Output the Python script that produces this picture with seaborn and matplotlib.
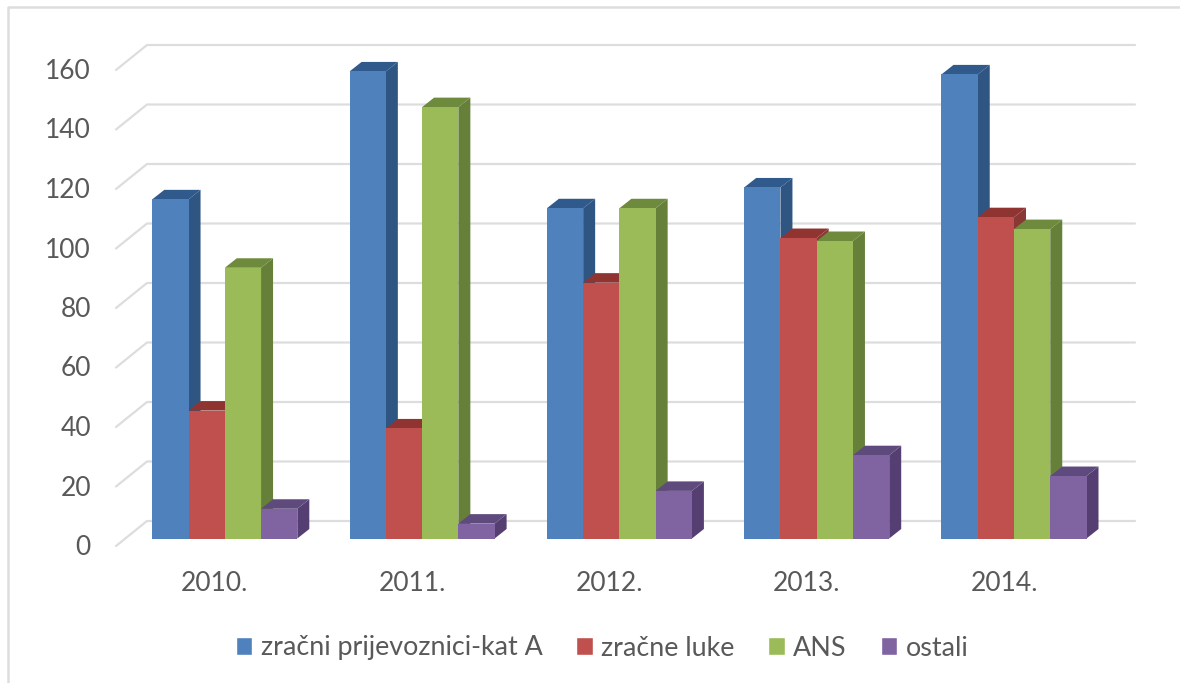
import pandas as pd
import matplotlib
matplotlib.use("Agg")
import matplotlib.pyplot as plt
import seaborn as sns
from matplotlib.lines import Line2D
from matplotlib.patches import Polygon, Patch
from matplotlib.transforms import ScaledTranslation

years = ["2010.", "2011.", "2012.", "2013.", "2014."]
categories = ["zračni prijevoznici-kat A", "zračne luke", "ANS", "ostali"]
carriers = [114, 157, 111, 118, 156]
airports = [43, 37, 86, 101, 108]
ans = [91, 145, 111, 100, 104]
others = [10, 5, 16, 28, 21]
y_ticks = [0, 20, 40, 60, 80, 100, 120, 140, 160]

front_colors = ["#4F81BD", "#C0504D", "#9BBB59", "#8064A2"]
side_colors = ["#2F5583", "#8A3836", "#66803A", "#553F72"]
top_colors = ["#30598C", "#8F3431", "#6E8A3C", "#5F4A7D"]
text_color = "#595959"
grid_color = "#DDDDDD"

df = pd.DataFrame({"godina": years, categories[0]: carriers, categories[1]: airports,
                   categories[2]: ans, categories[3]: others})
df = df.melt(id_vars="godina", var_name="kategorija", value_name="vrijednost")

sns.set_theme(style="white")
plt.rcParams["font.family"] = ["Lato", "DejaVu Sans"]

W, H = 1180, 683
fig = plt.figure(figsize=(W / 100, H / 100), dpi=100)

# axes placed in pixels so the pseudo 3D depth can be given in pixels too
ax_left, ax_right, ax_top, ax_bottom = 116, 1135, 40, 550
ax = fig.add_axes([ax_left / W, 1 - ax_bottom / H, (ax_right - ax_left) / W, (ax_bottom - ax_top) / H])
ax.patch.set_alpha(0)

sns.barplot(data=df, x="godina", y="vrijednost", hue="kategorija", hue_order=categories,
            palette=front_colors, width=0.735, gap=0, saturation=1, legend=False, ax=ax)

px_x = 197.3  # pixels per category
px_y = 2.975  # pixels per unit
zero_y = 538.5
first_x = 224.8
ax.set_xlim((ax_left - first_x) / px_x, (ax_right - first_x) / px_x)
ax.set_ylim((zero_y - ax_bottom) / px_y, (zero_y - ax_top) / px_y)

# back wall and floor lines
wall_x = ax.get_xlim()[0] + 31 / px_x
back_off = (zero_y - 521) / px_y
front_off = (zero_y - 546) / px_y
for v in y_ticks:
    ax.plot([ax.get_xlim()[0], wall_x, ax.get_xlim()[1]],
            [v + front_off, v + back_off, v + back_off],
            color=grid_color, lw=1.6, zorder=1, clip_on=False, solid_capstyle="round")

# side and top faces of each bar
dx = 12 / px_x
dy = 9.5 / px_y
for i, container in enumerate(ax.containers):
    for bar in container:
        x0 = bar.get_x()
        x1 = x0 + bar.get_width()
        h = bar.get_height()
        bar.set_zorder(4 + 2 * i)
        bar.set_linewidth(0)
        ax.add_patch(Polygon([(x1, 0), (x1 + dx, dy), (x1 + dx, h + dy), (x1, h)],
                             facecolor=side_colors[i], lw=0, zorder=3 + 2 * i))
        ax.add_patch(Polygon([(x0, h), (x0 + dx, h + dy), (x1 + dx, h + dy), (x1, h)],
                             facecolor=top_colors[i], lw=0, zorder=3 + 2 * i))

ax.set_xlabel("")
ax.set_ylabel("")
ax.set_yticks(y_ticks)
ax.tick_params(axis="y", length=0, pad=18, labelsize=19, labelcolor=text_color)
ax.tick_params(axis="x", length=0, pad=15, labelsize=19, labelcolor=text_color)
y_shift = ScaledTranslation(0, -6.5 / 100, fig.dpi_scale_trans)
for label in ax.get_yticklabels():
    label.set_transform(label.get_transform() + y_shift)
x_shift = ScaledTranslation(-10 / 100, 0, fig.dpi_scale_trans)
for label in ax.get_xticklabels():
    label.set_transform(label.get_transform() + x_shift)
sns.despine(ax=ax, left=True, bottom=True)

handles = [Patch(facecolor=c, label=n) for c, n in zip(front_colors, categories)]
leg = fig.legend(handles=handles, loc="center", bbox_to_anchor=(602 / W, 1 - 648 / H), ncol=4,
                 frameon=False, fontsize=19.4, handlelength=0.62, handleheight=0.62,
                 handletextpad=0.3, columnspacing=1.26, labelcolor=text_color)

# chart frame, open at the right and bottom
fig.add_artist(Line2D([8 / W, 8 / W, 1], [0, 1 - 7 / H, 1 - 7 / H], color=grid_color, lw=1.8))

fig.savefig("out.png", dpi=100)
